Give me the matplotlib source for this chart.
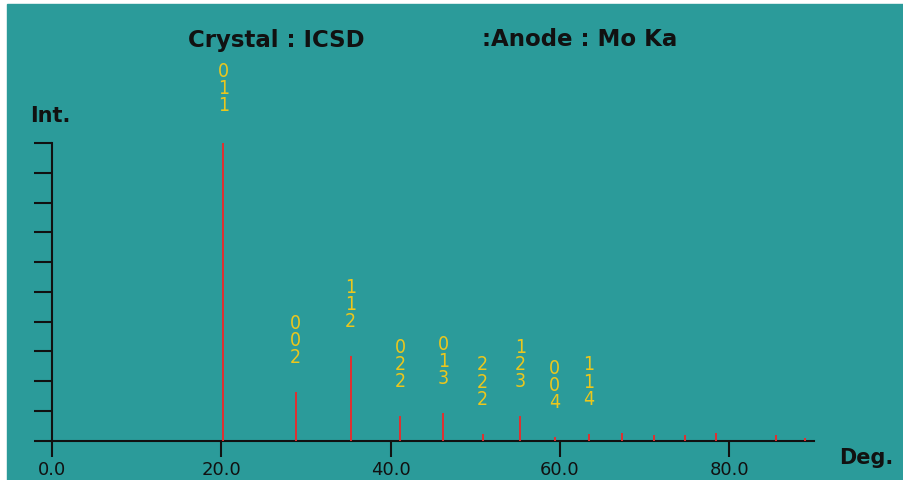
import matplotlib
matplotlib.use('Agg')
import matplotlib.pyplot as plt
from matplotlib.patches import Rectangle

# Peak positions (2-theta, deg) and relative intensities
two_theta = [20.24, 28.78, 35.28, 41.15, 46.23, 50.88, 55.33, 59.38, 63.44,
             67.3, 71.15, 74.8, 78.4, 85.5, 88.96]
intensity = [101, 16.2, 28.3, 8.1, 9.2, 2.3, 8.1, 1.2, 2.3,
             2.4, 1.9, 1.9, 2.4, 1.9, 0.7]
# Miller indices for the first (labelled) peaks
hkl = ['011', '002', '112', '022', '013', '222', '123', '004', '114']

x_ticks = [0, 20, 40, 60, 80]
x_tick_labels = ['0.0', '20.0', '40.0', '60.0', '80.0']
y_ticks = list(range(0, 101, 10))

bg = '#2b9b9a'
ink = '#111111'
peak_color = '#e03030'
label_color = '#ecc71c'

W, H = 904, 480
fig = plt.figure(figsize=(W / 100, H / 100), dpi=100)
fig.patch.set_facecolor('white')
fig.patches.append(Rectangle((7 / W, 0), 1 - 7 / W, 1 - 4 / H,
                             transform=fig.transFigure, color=bg, zorder=-5))

# axes placed in pixel terms: x 0->52px, 90->814px ; y 0->440.5px, 100->143px
left, right = 52 / W, 814 / W
bottom, top = (H - 440.5) / H, (H - 143) / H
ax = fig.add_axes([left, bottom, right - left, top - bottom])
ax.set_facecolor('none')
ax.set_xlim(0, 90)
ax.set_ylim(0, 100)

ax.vlines(two_theta, 0, intensity, color=peak_color, linewidth=1.4, zorder=3)

# stacked h/k/l digits above each labelled peak
for pos, val, idx in zip(two_theta, intensity, hkl):
    ax.annotate('\n'.join(idx), xy=(pos, val), xytext=(0, 25),
                textcoords='offset pixels', ha='center', va='bottom',
                multialignment='center', linespacing=0.875,
                color=label_color, fontsize=14, family='DejaVu Sans',
                stretch='condensed', annotation_clip=False)

for s in ['top', 'right']:
    ax.spines[s].set_visible(False)
for s in ['left', 'bottom']:
    ax.spines[s].set_color(ink)
    ax.spines[s].set_linewidth(1.5)

ax.set_xticks(x_ticks)
ax.set_xticklabels(x_tick_labels, fontsize=13, color=ink)
ax.set_yticks(y_ticks)
ax.set_yticklabels([])
ax.tick_params(axis='x', direction='out', length=11.5, width=1.5, color=ink, pad=3)
ax.tick_params(axis='y', direction='out', length=13, width=1.5, color=ink)

# title and axis names
fig.text(188 / W, 1 - 40 / H, 'Crystal : ICSD', fontsize=16.5, fontweight='bold',
         color=ink, ha='left', va='center')
fig.text(482 / W, 1 - 40 / H, ':Anode : Mo Ka', fontsize=16.5, fontweight='bold',
         color=ink, ha='left', va='center')
fig.text(50 / W, 1 - 116 / H, 'Int.', fontsize=15, fontweight='bold',
         color=ink, ha='center', va='center')
fig.text(866 / W, 1 - 458 / H, 'Deg.', fontsize=15, fontweight='bold',
         color=ink, ha='center', va='center')

plt.savefig('out.png', dpi=100, facecolor=fig.get_facecolor())
